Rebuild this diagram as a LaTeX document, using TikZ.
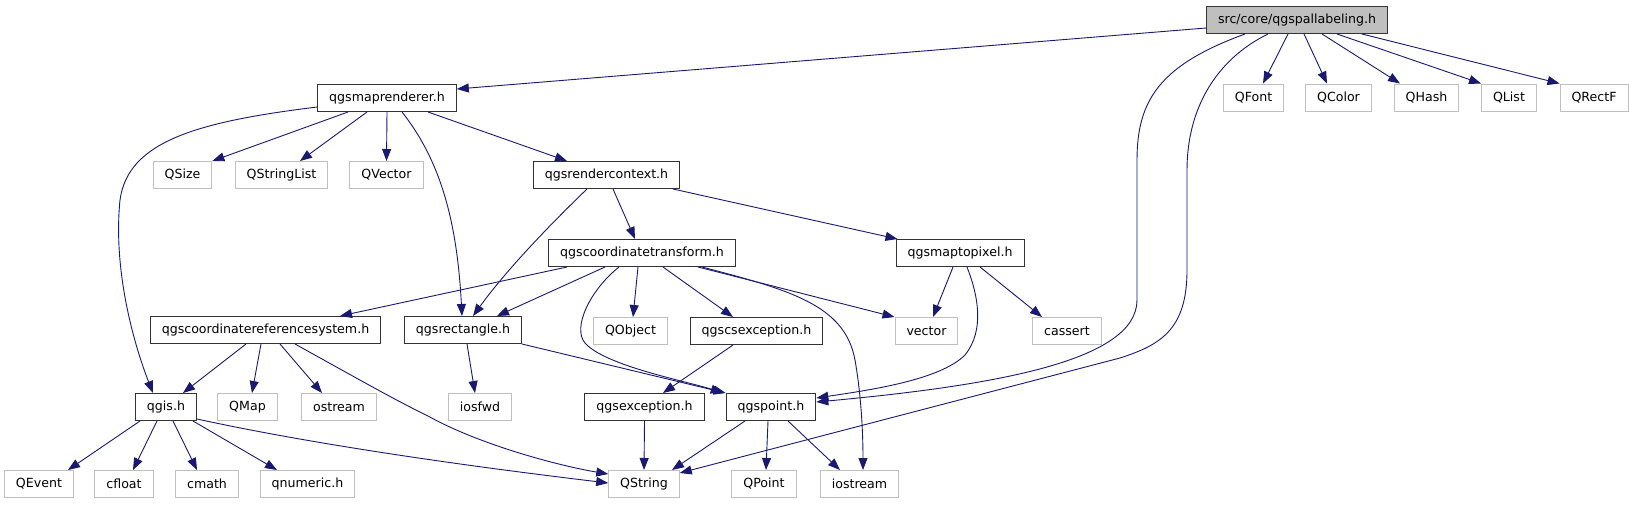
\documentclass[tikz,border=0pt]{standalone}
\usepackage{fontspec}
\setmainfont{DejaVu Sans}
\usetikzlibrary{arrows.meta}
\definecolor{edgeblue}{RGB}{25,25,112}
\definecolor{libgray}{RGB}{191,191,191}

\begin{document}
\begin{tikzpicture}[x=1pt,y=-1pt,
  hdr/.style={draw=black!80,line width=1pt,minimum height=27pt,inner xsep=11.5pt,inner ysep=0pt,font=\fontsize{12.6}{15}\selectfont},
  lib/.style={hdr,draw=libgray},
  topfile/.style={hdr,fill=libgray},
  dep/.style={edgeblue,line width=0.9pt,-{Triangle[length=12pt,width=9pt]}}]
\useasboundingbox[fill=white] (0,0) rectangle (1629,504);

\node[topfile] (top) at (1297,20){src/core/qgspallabeling.h};
\node[lib] (qfont) at (1253.5,97.5){QFont};	\node[lib] (qcolor) at (1338.5,97.5){QColor};	\node[lib] (qhash) at (1426.5,97.5){QHash};
\node[lib] (qlist) at (1509,97.5){QList};	\node[lib] (qrectf) at (1594,97.5){QRectF};
\node[hdr] (mr) at (387,98){qgsmaprenderer.h};
\node[lib] (qsize) at (182.5,175){QSize};	\node[lib] (qsl) at (281.5,175){QStringList};	\node[lib] (qvec) at (386.5,175){QVector};
\node[hdr] (rc) at (606.5,175){qgsrendercontext.h};
\node[hdr] (ct) at (642,253){qgscoordinatetransform.h};	\node[hdr] (mtp) at (960,253){qgsmaptopixel.h};
\node[hdr] (crs) at (265.5,330){qgscoordinatereferencesystem.h};	\node[hdr] (rect) at (463,330){qgsrectangle.h};
\node[lib] (qobj) at (630.5,331){QObject};	\node[hdr] (csx) at (756.5,331){qgscsexception.h};
\node[lib] (vec) at (926.5,331){vector};	\node[lib] (cas) at (1067,331){cassert};
\node[hdr] (qgis) at (166,407){qgis.h};	\node[lib] (qmap) at (247.5,407){QMap};	\node[lib] (ostr) at (339,407){ostream};
\node[lib] (iosf) at (480,407){iosfwd};	\node[hdr] (exc) at (644.5,407){qgsexception.h};	\node[hdr] (pt) at (771,407){qgspoint.h};
\node[lib] (qev) at (39,484){QEvent};	\node[lib] (cfl) at (124,484){cfloat};	\node[lib] (cmth) at (207,484){cmath};
\node[lib] (qnum) at (307.5,484){qnumeric.h};	\node[lib] (qstr) at (644,484){QString};
\node[lib] (qpt) at (764,484){QPoint};	\node[lib] (iostr) at (859.5,484){iostream};

\draw[dep] ([yshift=-8pt]top.west) -- ([yshift=9pt]mr.east);
\draw[dep] ([xshift=-9pt]top.south) -- ([xshift=9.5pt]qfont.north);
\draw[dep] ([xshift=7pt]top.south) -- ([xshift=-11.5pt]qcolor.north);
\draw[dep] ([xshift=25pt]top.south) -- ([xshift=-26.5pt]qhash.north);
\draw[dep] ([xshift=40pt]top.south) -- (qlist.north west);
\draw[dep] ([xshift=65pt]top.south) -- (qrectf.north west);
\draw[dep] ([xshift=-52pt]top.south) .. controls (1160,65) and (1137,100) .. (1137,160) -- (1137,300)
  .. controls (1137,360) and (1000,385) .. ([yshift=5pt]pt.east);
\draw[dep] ([xshift=-29pt]top.south) .. controls (1215,60) and (1187,110) .. (1187,170) -- (1187,270)
  .. controls (1187,330) and (1160,345) .. (1120,358) -- ([yshift=11pt]qstr.east);

\draw[dep] ([yshift=-9pt]mr.west) .. controls (195,122) and (128,142) .. (120,200)
  .. controls (112,280) and (140,360) .. ([xshift=-13pt]qgis.north);
\draw[dep] ([xshift=-39pt]mr.south) -- (qsize.north east);
\draw[dep] ([xshift=-20pt]mr.south) -- ([xshift=18.5pt]qsl.north);
\draw[dep] (mr.south) -- (qvec.north);
\draw[dep] ([xshift=15pt]mr.south) .. controls (440,160) and (457,220) .. ([xshift=-1pt]rect.north);
\draw[dep] ([xshift=41pt]mr.south) -- ([xshift=-39.5pt]rc.north);

\draw[dep] ([xshift=-19.5pt]rc.south) .. controls (560,215) and (510,265) .. ([xshift=10pt]rect.north);
\draw[dep] ([xshift=6.5pt]rc.south) -- ([xshift=-7pt]ct.north);
\draw[dep] ([xshift=66.5pt]rc.south) -- ([xshift=2pt]mtp.north west);

\draw[dep] ([xshift=-75pt]ct.south) -- ([xshift=74.5pt]crs.north);
\draw[dep] ([xshift=-37pt]ct.south) -- ([xshift=34pt]rect.north);
\draw[dep] ([xshift=-23pt]ct.south) .. controls (590,290) and (572,328) .. (585,343)
  .. controls (605,366) and (690,382) .. ([xshift=-3pt]pt.north west);
\draw[dep] ([xshift=-4pt]ct.south) -- ([xshift=2.5pt]qobj.north);
\draw[dep] ([xshift=21pt]ct.south) -- ([xshift=-23.5pt]csx.north);
\draw[dep] ([xshift=56pt]ct.south) -- (vec.north west);
\draw[dep] ([xshift=60pt]ct.south) .. controls (790,290) and (845,305) .. (855,360)
  .. controls (862,400) and (863,440) .. ([xshift=3.5pt]iostr.north);

\draw[dep] ([xshift=-7pt]mtp.south) -- ([xshift=6.5pt]vec.north);
\draw[dep] ([xshift=7pt]mtp.south) .. controls (978,295) and (985,330) .. (965,355)
  .. controls (940,380) and (870,390) .. ([yshift=9pt]pt.east);
\draw[dep] ([xshift=20pt]mtp.south) -- ([xshift=-25pt]cas.north);

\draw[dep] ([xshift=-19.5pt]crs.south) -- ([xshift=17pt]qgis.north);
\draw[dep] ([xshift=-4.5pt]crs.south) -- ([xshift=4.5pt]qmap.north);
\draw[dep] ([xshift=14.5pt]crs.south) -- ([xshift=-17pt]ostr.north);
\draw[dep] ([xshift=29.5pt]crs.south) .. controls (360,380) and (395,400) .. (428,416)
  .. controls (480,445) and (560,466) .. ([yshift=10pt]qstr.west);

\draw[dep] ([xshift=4pt]rect.south) -- ([xshift=-5pt]iosf.north);
\draw[dep] (rect.south east) -- (pt.north west);
\draw[dep] ([xshift=-23.5pt]csx.south) -- ([xshift=18.5pt]exc.north);

\draw[dep] ([xshift=-26pt]qgis.south) -- ([xshift=29pt]qev.north);
\draw[dep] ([xshift=-9pt]qgis.south) -- ([xshift=9pt]cfl.north);
\draw[dep] ([xshift=7pt]qgis.south) -- ([xshift=-10pt]cmth.north);
\draw[dep] ([xshift=27pt]qgis.south) -- ([xshift=-30.5pt]qnum.north);
\draw[dep] ([yshift=2pt]qgis.south east) .. controls (330,448) and (500,470) .. ([yshift=1pt]qstr.west);

\draw[dep] (exc.south) -- (qstr.north);
\draw[dep] ([xshift=-26pt]pt.south) -- ([xshift=28pt]qstr.north);
\draw[dep] ([xshift=-3pt]pt.south) -- ([xshift=2pt]qpt.north);
\draw[dep] ([xshift=17pt]pt.south) -- ([xshift=-19.5pt]iostr.north);

\end{tikzpicture}
\end{document}
